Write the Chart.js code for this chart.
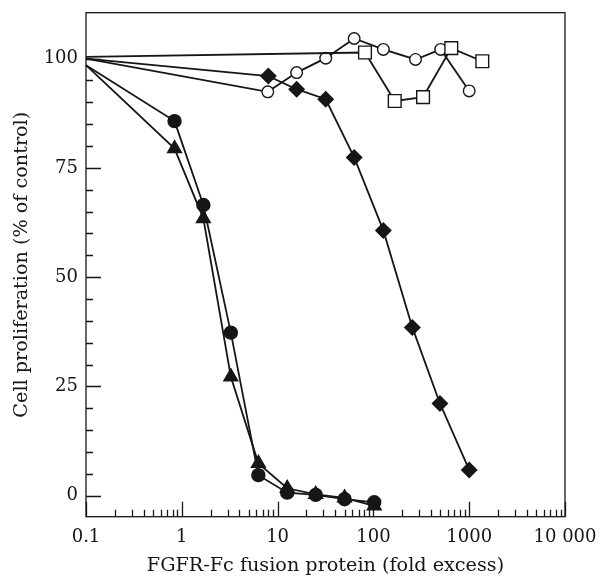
<!DOCTYPE html>
<html>
<head>
<meta charset="utf-8">
<script src="https://cdn.jsdelivr.net/npm/chart.js@4.4.1/dist/chart.umd.min.js"></script>
<style>
  html, body { margin: 0; padding: 0; background: #fff; }
  #wrap { width: 600px; height: 578px; }
</style>
</head>
<body>
<div id="wrap"><canvas id="c" width="600" height="578"></canvas></div>
<script>
// Dose (fold excess) and proliferation (% of control) for each construct
const filledCircleDose = [0.1, 0.84, 1.68, 3.25, 6.3, 12.6, 25, 50, 102];
const filledCircleProlif = [98.5, 85.7, 66.5, 37.3, 4.7, 0.7, 0.2, -0.8, -1.5];

const triangleDose = [0.1, 0.84, 1.68, 3.25, 6.3, 12.6, 25, 50, 102];
const triangleProlif = [98.5, 79.4, 63.4, 27.2, 7.4, 1.7, 0.3, -0.5, -2.3];

const diamondDose = [0.1, 8.0, 15.8, 31.8, 63, 127, 255, 495, 1000];
const diamondProlif = [100, 96.0, 93.0, 90.7, 77.4, 60.7, 38.5, 21.1, 5.9];

const openCircleDose = [0.1, 7.9, 15.8, 31.8, 63, 127, 275, 504, 1000];
const openCircleProlif = [100, 92.4, 96.8, 100.1, 104.6, 102.1, 99.8, 102.1, 92.6];

const squareDose = [0.1, 81.7, 167, 330, 650, 1370];
const squareProlif = [100.4, 101.4, 90.3, 91.2, 102.4, 99.4];

// Axis tick labels
const xTickValues = [0.1, 1, 10, 100, 1000, 10000];
const xTickLabels = ['0.1', '1', '10', '100', '1000', '10 000'];
const yTickValues = [0, 25, 50, 75, 100];
const yTickLabels = ['0', '25', '50', '75', '100'];

const INK = '#161616';
const FONT = 'DejaVu Serif';

function pts(xs, ys) { return xs.map((x, i) => ({ x: x, y: ys[i] })); }

// The common control point at the lowest dose is joined by the line but carries no marker
function series(label, xs, ys, style, radius, fill) {
  return {
    label: label,
    data: pts(xs, ys),
    borderColor: INK,
    borderWidth: 1.8,
    pointStyle: style,
    pointRadius: (c) => (c.dataIndex === 0 ? 0 : radius),
    pointBorderWidth: 1.4,
    pointBorderColor: INK,
    pointBackgroundColor: fill,
    pointHoverRadius: (c) => (c.dataIndex === 0 ? 0 : radius),
    tension: 0,
    clip: false,
    showLine: true,
    fill: false
  };
}

// Inward tick marks and the frame around the plot
const frameTicks = {
  id: 'frameTicks',
  afterDraw(chart) {
    const ctx = chart.ctx;
    const a = chart.chartArea;
    const xs = chart.scales.x, ys = chart.scales.y;
    ctx.save();
    ctx.strokeStyle = INK;
    ctx.lineWidth = 1.3;
    ctx.beginPath();
    // x: decades long, intermediate 2..9 short
    for (let e = -1; e <= 4; e++) {
      for (let m = 1; m <= 9; m++) {
        const v = m * Math.pow(10, e);
        if (v > 10000 * 1.0001) break;
        const px = Math.round(xs.getPixelForValue(v)) + 0.5;
        const len = (m === 1) ? 15 : 7;
        ctx.moveTo(px, a.bottom);
        ctx.lineTo(px, a.bottom - len);
      }
    }
    // y: every 5, long at every 25
    for (let v = 0; v <= 100; v += 5) {
      const py = Math.round(ys.getPixelForValue(v)) + 0.5;
      const len = (v % 25 === 0) ? 15 : 7;
      ctx.moveTo(a.left, py);
      ctx.lineTo(a.left + len, py);
    }
    ctx.stroke();
    ctx.strokeRect(a.left, a.top, a.right - a.left, a.bottom - a.top);
    ctx.restore();
  }
};

new Chart(document.getElementById('c'), {
  type: 'scatter',
  data: {
    datasets: [
      series('filled circles', filledCircleDose, filledCircleProlif, 'circle', 6.5, INK),
      series('triangles', triangleDose, triangleProlif, 'triangle', 8, INK),
      series('open squares', squareDose, squareProlif, 'rect', 9, '#ffffff'),
      series('open circles', openCircleDose, openCircleProlif, 'circle', 5.8, '#ffffff'),
      series('diamonds', diamondDose, diamondProlif, 'rectRot', 7.5, INK)
    ]
  },
  options: {
    responsive: false,
    animation: false,
    events: [],
    layout: { padding: { top: 12.7, right: 35, bottom: 0, left: 0 } },
    plugins: { legend: { display: false }, tooltip: { enabled: false } },
    scales: {
      x: {
        type: 'logarithmic',
        min: 0.1,
        max: 10000,
        afterFit(scale) { scale.height = 61.3; scale.paddingLeft = 0; scale.paddingRight = 0; },
        afterBuildTicks(scale) { scale.ticks = xTickValues.map(v => ({ value: v })); },
        grid: { display: false, drawTicks: false },
        border: { display: false },
        ticks: {
          autoSkip: false,
          maxRotation: 0,
          padding: 10,
          color: INK,
          font: { family: FONT, size: 18 },
          callback: (v) => {
            const i = xTickValues.findIndex(t => Math.abs(t - v) / t < 1e-6);
            return i >= 0 ? xTickLabels[i] : '';
          }
        },
        title: {
          display: true,
          text: 'FGFR-Fc fusion protein (fold excess)',
          color: INK,
          font: { family: FONT, size: 19.2 },
          padding: { top: 0, bottom: 0 }
        }
      },
      y: {
        min: -4.8,
        max: 110.5,
        afterFit(scale) { scale.width = 86; scale.paddingTop = 0; scale.paddingBottom = 0; },
        afterBuildTicks(scale) { scale.ticks = yTickValues.map(v => ({ value: v })); },
        grid: { display: false, drawTicks: false },
        border: { display: false },
        ticks: {
          padding: 8,
          color: INK,
          font: { family: FONT, size: 18 },
          callback: (v) => {
            const i = yTickValues.indexOf(v);
            return i >= 0 ? yTickLabels[i] : '';
          }
        },
        title: {
          display: true,
          text: 'Cell proliferation (% of control)',
          color: INK,
          font: { family: FONT, size: 19.2 },
          padding: { top: 10, bottom: 0 }
        }
      }
    }
  },
  plugins: [frameTicks]
});
</script>
</body>
</html>
